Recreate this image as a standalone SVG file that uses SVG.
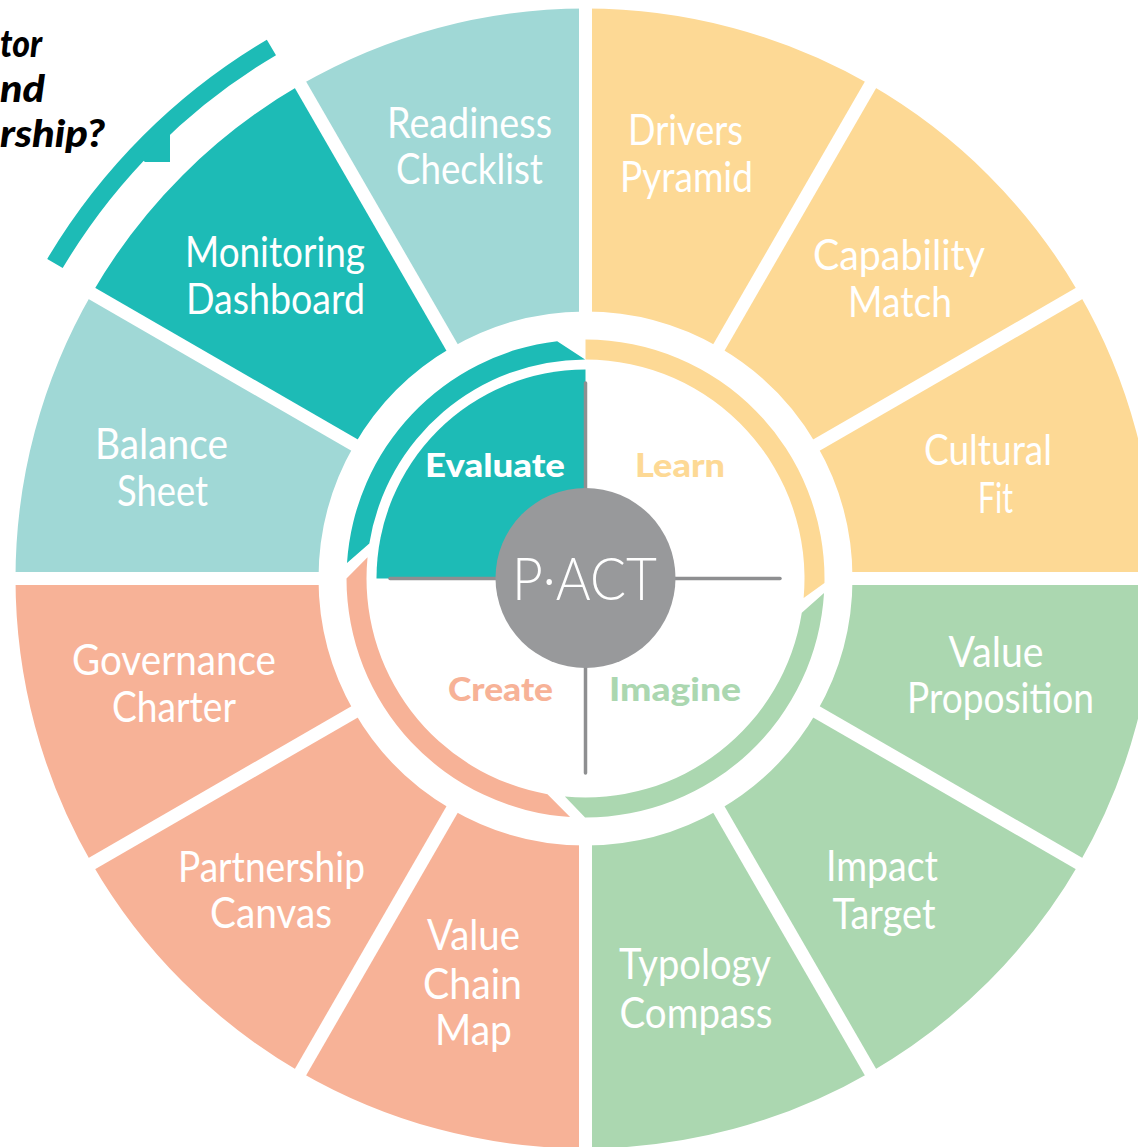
<svg xmlns="http://www.w3.org/2000/svg" width="1138" height="1147" viewBox="0 0 1138 1147">
<style>
.lbl{font-family:Lato,"Liberation Sans",sans-serif;font-weight:400;font-size:42px;fill:#ffffff;text-anchor:middle}
.q{font-family:Lato,"Liberation Sans",sans-serif;font-weight:900;font-size:33px;text-anchor:middle}
.ttl{font-family:Lato,"Liberation Sans",sans-serif;font-weight:900;font-style:italic;font-size:38px;fill:#000000}
.gap{stroke:#ffffff;stroke-width:13;fill:none}
.lt{fill:#A0D8D6}.dt{fill:#1DBBB6}.ye{fill:#FDD995}.or{fill:#F7B297}.gr{fill:#ABD7B0}
</style>
<rect width="1138" height="1147" fill="#ffffff"/>
<g id="title">
<text class="ttl" x="0" y="57" textLength="42" lengthAdjust="spacingAndGlyphs">tor</text>
<text class="ttl" x="0" y="102" textLength="45" lengthAdjust="spacingAndGlyphs">nd</text>
<text class="ttl" x="0" y="147" textLength="105" lengthAdjust="spacingAndGlyphs">rship?</text>
</g>
<g id="outer-arc">
<path class="dt" d="M266.84,39.68 A626,626 0 0 0 47.23,258.9 L62.71,268.09 A608,608 0 0 1 276,55.17 Z"/>
<path class="dt" d="M170,128 L170,162 L145,162 L140,158 Z"/>
</g>
<g id="cultural-fit">
<path class="ye" d="M1155.5,578.5 A570,570 0 0 0 1079.13,293.5 L816.73,445 A267,267 0 0 1 852.5,578.5 Z"/>
<text class="lbl" x="988" y="465" textLength="128" lengthAdjust="spacingAndGlyphs">Cultural</text>
<text class="lbl" x="995.5" y="513" textLength="35" lengthAdjust="spacingAndGlyphs">Fit</text>
</g>
<g id="capability-match">
<path class="ye" d="M1079.13,293.5 A570,570 0 0 0 870.5,84.87 L719,347.27 A267,267 0 0 1 816.73,445 Z"/>
<text class="lbl" x="899" y="270" textLength="172" lengthAdjust="spacingAndGlyphs">Capability</text>
<text class="lbl" x="900" y="317" textLength="104" lengthAdjust="spacingAndGlyphs">Match</text>
</g>
<g id="drivers-pyramid">
<path class="ye" d="M870.5,84.87 A570,570 0 0 0 585.5,8.5 L585.5,311.5 A267,267 0 0 1 719,347.27 Z"/>
<text class="lbl" x="685.5" y="145" textLength="115" lengthAdjust="spacingAndGlyphs">Drivers</text>
<text class="lbl" x="686.5" y="192" textLength="133" lengthAdjust="spacingAndGlyphs">Pyramid</text>
</g>
<g id="readiness-checklist">
<path class="lt" d="M585.5,8.5 A570,570 0 0 0 300.5,84.87 L452,347.27 A267,267 0 0 1 585.5,311.5 Z"/>
<text class="lbl" x="469.5" y="138" textLength="165" lengthAdjust="spacingAndGlyphs">Readiness</text>
<text class="lbl" x="469.5" y="184" textLength="147" lengthAdjust="spacingAndGlyphs">Checklist</text>
</g>
<g id="monitoring-dashboard">
<path class="dt" d="M300.5,84.87 A570,570 0 0 0 91.87,293.5 L354.27,445 A267,267 0 0 1 452,347.27 Z"/>
<text class="lbl" x="275" y="267" textLength="180" lengthAdjust="spacingAndGlyphs">Monitoring</text>
<text class="lbl" x="275.5" y="314" textLength="179" lengthAdjust="spacingAndGlyphs">Dashboard</text>
</g>
<g id="balance-sheet">
<path class="lt" d="M91.87,293.5 A570,570 0 0 0 15.5,578.5 L318.5,578.5 A267,267 0 0 1 354.27,445 Z"/>
<text class="lbl" x="161.5" y="459" textLength="133" lengthAdjust="spacingAndGlyphs">Balance</text>
<text class="lbl" x="162.5" y="506" textLength="91" lengthAdjust="spacingAndGlyphs">Sheet</text>
</g>
<g id="governance-charter">
<path class="or" d="M15.5,578.5 A570,570 0 0 0 91.87,863.5 L354.27,712 A267,267 0 0 1 318.5,578.5 Z"/>
<text class="lbl" x="174" y="675" textLength="204" lengthAdjust="spacingAndGlyphs">Governance</text>
<text class="lbl" x="174" y="722" textLength="124" lengthAdjust="spacingAndGlyphs">Charter</text>
</g>
<g id="partnership-canvas">
<path class="or" d="M91.87,863.5 A570,570 0 0 0 300.5,1072.13 L452,809.73 A267,267 0 0 1 354.27,712 Z"/>
<text class="lbl" x="271.5" y="882" textLength="187" lengthAdjust="spacingAndGlyphs">Partnership</text>
<text class="lbl" x="271" y="928" textLength="122" lengthAdjust="spacingAndGlyphs">Canvas</text>
</g>
<g id="value-chain-map">
<path class="or" d="M300.5,1072.13 A570,570 0 0 0 585.5,1148.5 L585.5,845.5 A267,267 0 0 1 452,809.73 Z"/>
<text class="lbl" x="473.5" y="950" textLength="93" lengthAdjust="spacingAndGlyphs">Value</text>
<text class="lbl" x="472.5" y="999" textLength="99" lengthAdjust="spacingAndGlyphs">Chain</text>
<text class="lbl" x="473.5" y="1045" textLength="77" lengthAdjust="spacingAndGlyphs">Map</text>
</g>
<g id="typology-compass">
<path class="gr" d="M585.5,1148.5 A570,570 0 0 0 870.5,1072.13 L719,809.73 A267,267 0 0 1 585.5,845.5 Z"/>
<text class="lbl" x="695" y="979" textLength="152" lengthAdjust="spacingAndGlyphs">Typology</text>
<text class="lbl" x="696" y="1028" textLength="153" lengthAdjust="spacingAndGlyphs">Compass</text>
</g>
<g id="impact-target">
<path class="gr" d="M870.5,1072.13 A570,570 0 0 0 1079.13,863.5 L816.73,712 A267,267 0 0 1 719,809.73 Z"/>
<text class="lbl" x="882" y="881" textLength="112" lengthAdjust="spacingAndGlyphs">Impact</text>
<text class="lbl" x="884" y="929" textLength="103" lengthAdjust="spacingAndGlyphs">Target</text>
</g>
<g id="value-proposition">
<path class="gr" d="M1079.13,863.5 A570,570 0 0 0 1155.5,578.5 L852.5,578.5 A267,267 0 0 1 816.73,712 Z"/>
<text class="lbl" x="996" y="667" textLength="95" lengthAdjust="spacingAndGlyphs">Value</text>
<text class="lbl" x="1000.5" y="713" textLength="187" lengthAdjust="spacingAndGlyphs">Proposition</text>
</g>
<g id="ring-gaps">
<line class="gap" x1="835" y1="578.5" x2="1160" y2="578.5"/>
<line class="gap" x1="335" y1="578.5" x2="10" y2="578.5"/>
<line class="gap" x1="585.5" y1="328" x2="585.5" y2="3"/>
<line class="gap" x1="585.5" y1="829" x2="585.5" y2="1154"/>
<line class="gap" x1="802.5" y1="453.2" x2="1084" y2="290.7"/>
<line class="gap" x1="710.8" y1="361.5" x2="873.3" y2="80"/>
<line class="gap" x1="460.2" y1="361.5" x2="297.7" y2="80"/>
<line class="gap" x1="368.5" y1="453.2" x2="87" y2="290.7"/>
<line class="gap" x1="368.5" y1="703.8" x2="87" y2="866.3"/>
<line class="gap" x1="460.2" y1="795.5" x2="297.7" y2="1077"/>
<line class="gap" x1="710.8" y1="795.5" x2="873.3" y2="1077"/>
<line class="gap" x1="802.5" y1="703.8" x2="1084" y2="866.3"/>
</g>
<g id="learn-ring">
<path class="ye" d="M585.5,339.5 A239,239 0 0 1 824.46,583.09 L803.63,597.97 A219,219 0 0 0 585.5,359.5 Z"/>
</g>
<g id="imagine-ring">
<path class="gr" d="M824.05,593.09 A239,239 0 0 1 585.08,817.5 L564.89,796.53 A219,219 0 0 0 801.8,612.76 Z"/>
</g>
<g id="create-ring">
<path class="or" d="M570.08,817 A239,239 0 0 1 346.5,578.5 L367.55,557.13 A219,219 0 0 0 547.47,794.17 Z"/>
</g>
<g id="evaluate-ring">
<path class="dt" d="M347,563.08 A239,239 0 0 1 557.2,341.18 L585.12,359.5 A219,219 0 0 0 369.32,543.49 Z"/>
<path class="dt" d="M585.5,578.5 L376.5,578.5 A209,209 0 0 1 585.5,369.5 Z"/>
</g>
<g id="dividers" stroke="#8E8F91" stroke-width="3.5" stroke-linecap="round">
<line x1="585.5" y1="383" x2="585.5" y2="773"/>
<line x1="390" y1="578.5" x2="780" y2="578.5"/>
</g>
<g id="quadrant-labels">
<text class="q" x="495" y="477" fill="#ffffff" textLength="140" lengthAdjust="spacingAndGlyphs">Evaluate</text>
<text class="q" x="680" y="477" fill="#FDD995" textLength="90" lengthAdjust="spacingAndGlyphs">Learn</text>
<text class="q" x="500.5" y="701" fill="#F7B297" textLength="105" lengthAdjust="spacingAndGlyphs">Create</text>
<text class="q" x="675" y="701" fill="#ABD7B0" textLength="132" lengthAdjust="spacingAndGlyphs">Imagine</text>
</g>
<g id="pact">
<circle cx="585.5" cy="578" r="90" fill="#98999B"/>
<text x="584.5" y="600" font-family="Lato,'Liberation Sans',sans-serif" font-weight="300" font-size="60" fill="#ffffff" text-anchor="middle" textLength="145" lengthAdjust="spacingAndGlyphs">P·ACT</text>
</g>
</svg>
